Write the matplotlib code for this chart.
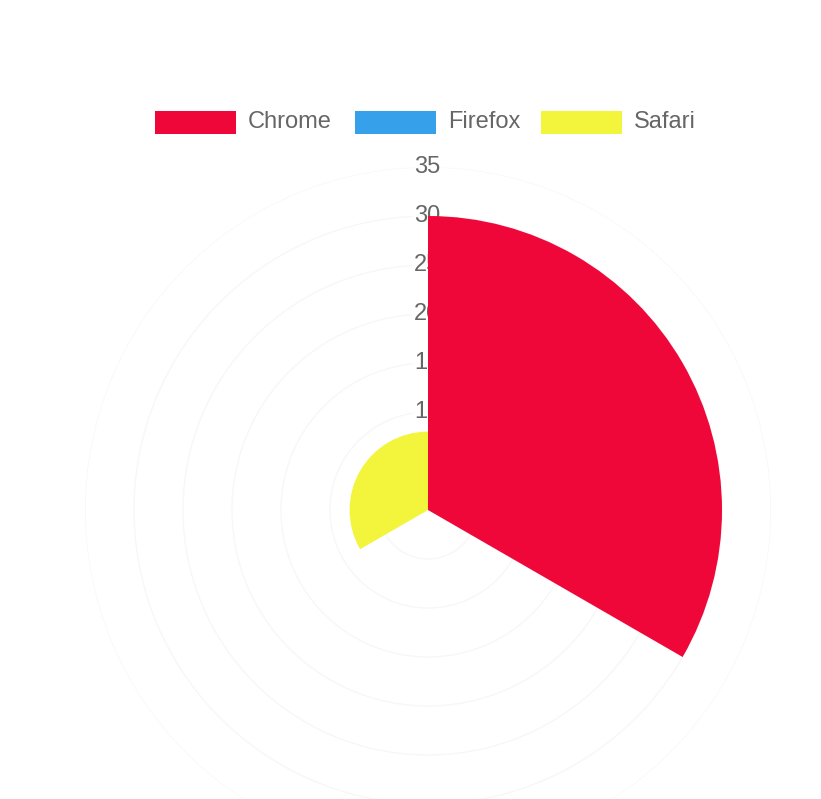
import numpy as np
import matplotlib.pyplot as plt
from matplotlib.patches import Rectangle
from matplotlib.transforms import offset_copy

browsers = ['Chrome', 'Firefox', 'Safari']
visits = [30, 0, 8]
colors = ['#ef073a', '#36a0ea', '#f2f53c']
ticks = [5, 10, 15, 20, 25, 30, 35]

plt.rcParams['font.family'] = ['Liberation Sans', 'DejaVu Sans']

fig = plt.figure(figsize=(8.21, 7.99), dpi=100)

# polar area: centre at (428, 510) px, r=35 -> 343 px
W, H = 821, 799
cx, cy, R = 428, 510, 343
ax = fig.add_axes([(cx - R) / W, (H - cy - R) / H, 2 * R / W, 2 * R / H],
                  projection='polar')
ax.set_theta_zero_location('N')
ax.set_theta_direction(-1)
ax.set_ylim(0, 35)
ax.set_xticks([])
ax.set_yticks([])
ax.grid(False)
ax.spines['polar'].set_visible(False)
ax.patch.set_alpha(0)

# very faint grid circles
t = np.linspace(0, 2 * np.pi, 400)
for r in ticks:
    ax.plot(t, np.full_like(t, r), color='#f7f7f7', lw=1, zorder=0)

# tick labels sit behind the wedges
lbl_tr = offset_copy(ax.transData, fig=fig, x=-1, y=0, units='dots')
for r in ticks:
    ax.text(0, r, str(r), ha='center', va='center', fontsize=17, color='#666666',
            zorder=1, transform=lbl_tr,
            bbox=dict(facecolor='white', edgecolor='none', pad=1, alpha=0.8))

n = len(browsers)
width = 2 * np.pi / n
theta = np.arange(n) * width + width / 2
ax.bar(theta, visits, width=width, color=colors, linewidth=0, zorder=2)

# legend along the top
lx = [155, 355, 541]
for x0, name, c in zip(lx, browsers, colors):
    fig.patches.append(Rectangle((x0 / W, (H - 134) / H), 81 / W, 23 / H,
                                 transform=fig.transFigure, facecolor=c, edgecolor='none'))
    fig.text((x0 + 93) / W, (H - 122) / H, name, fontsize=17, color='#666666',
             ha='left', va='center')

fig.savefig('out.png', dpi=100, facecolor='white')
